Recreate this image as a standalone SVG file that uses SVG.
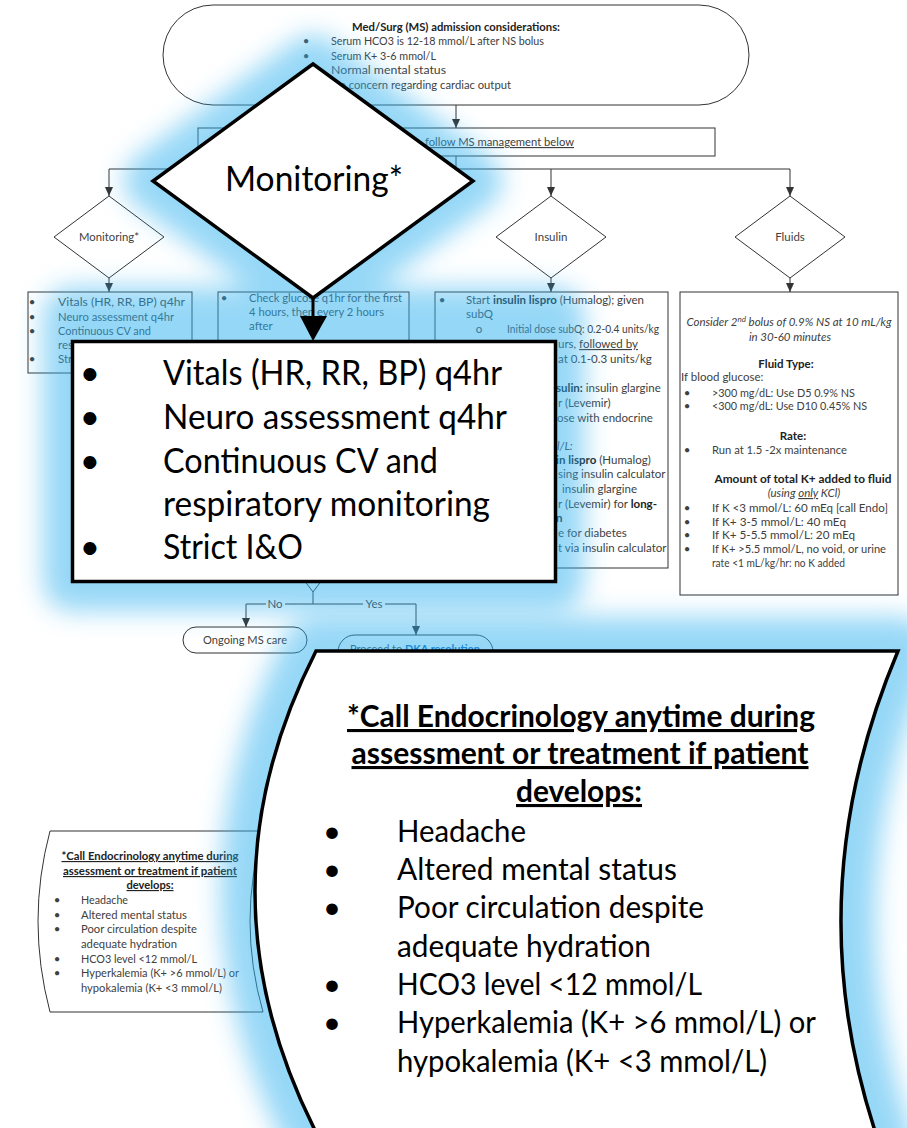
<svg xmlns="http://www.w3.org/2000/svg" width="907" height="1128" viewBox="0 0 907 1128">
  <defs>
    <style>
      .t { font-family: Lato, "Liberation Sans", sans-serif; font-size: 11.5px; fill: #404040; }
      .b { font-weight: bold; fill: #222; }
      .i { font-style: italic; }
      .u { text-decoration: underline; }
      .lnk { fill: #0563c1; font-weight: bold; text-decoration: underline; }
      .ln { stroke: #333; stroke-width: 1; fill: none; }
      .node { fill: #fff; stroke: #333; stroke-width: 1; }
      .big { fill: #fff; stroke: #000; stroke-width: 3.5; stroke-linejoin: miter; }
      .bt { font-family: Lato, "Liberation Sans", sans-serif; fill: #000; }
      .glow { fill: #2fb0ef; stroke: #2fb0ef; stroke-linejoin: round; }
    </style>
    <marker id="arr" markerUnits="userSpaceOnUse" markerWidth="9" markerHeight="8" refX="9" refY="4" orient="auto">
      <path d="M0,0 L9,4 L0,8 Z" fill="#333"/>
    </marker>
    <filter id="halo" filterUnits="userSpaceOnUse" x="-80" y="-80" width="1070" height="1290">
      <feGaussianBlur stdDeviation="13"/>
    </filter>
  </defs>
  <rect width="907" height="1128" fill="#fff"/>

  <!-- ===== flowchart ===== -->
  <g id="admission">
    <rect class="node" x="163" y="5" width="586" height="100" rx="50"/>
    <text class="t b" x="456" y="31" text-anchor="middle" textLength="208" lengthAdjust="spacingAndGlyphs">Med/Surg (MS) admission considerations:</text>
    <text class="t" x="306" y="45" text-anchor="middle">•</text>
    <text class="t" x="306" y="60" text-anchor="middle">•</text>
    <text class="t" x="306" y="74" text-anchor="middle">•</text>
    <text class="t" x="306" y="89" text-anchor="middle">•</text>
    <text class="t" x="331" y="45" textLength="213" lengthAdjust="spacingAndGlyphs">Serum HCO3 is 12-18 mmol/L after NS bolus</text>
    <text class="t" x="331" y="60" textLength="105" lengthAdjust="spacingAndGlyphs">Serum K+ 3-6 mmol/L</text>
    <text class="t" x="331" y="74" textLength="115" lengthAdjust="spacingAndGlyphs">Normal mental status</text>
    <text class="t" x="331" y="89" textLength="180" lengthAdjust="spacingAndGlyphs">No concern regarding cardiac output</text>
  </g>

  <g id="ms-management">
    <rect class="node" x="198" y="128" width="517" height="28"/>
    <text class="t u" x="425" y="146" textLength="149" lengthAdjust="spacingAndGlyphs">follow MS management below</text>
  </g>

  <g id="monitoring-decision">
    <polygon class="node" points="109,196 164,237 109,278 54,237"/>
    <text class="t" x="109" y="241" text-anchor="middle" font-size="11" textLength="60" lengthAdjust="spacingAndGlyphs">Monitoring*</text>
  </g>
  <g id="insulin-decision">
    <polygon class="node" points="551,196 606,237 551,278 496,237"/>
    <text class="t" x="551" y="241" text-anchor="middle" font-size="11">Insulin</text>
  </g>
  <g id="fluids-decision">
    <polygon class="node" points="790,196 845,237 790,278 735,237"/>
    <text class="t" x="790" y="241" text-anchor="middle" font-size="11">Fluids</text>
  </g>

  <g id="monitoring-box">
    <rect class="node" x="28" y="292" width="164" height="81"/>
    <text class="t" x="32" y="306" text-anchor="middle">•</text>
    <text class="t" x="32" y="321" text-anchor="middle">•</text>
    <text class="t" x="32" y="335" text-anchor="middle">•</text>
    <text class="t" x="32" y="363" text-anchor="middle">•</text>
    <text class="t" x="58" y="306" textLength="127" lengthAdjust="spacingAndGlyphs">Vitals (HR, RR, BP) q4hr</text>
    <text class="t" x="58" y="321" textLength="116" lengthAdjust="spacingAndGlyphs">Neuro assessment q4hr</text>
    <text class="t" x="58" y="335" textLength="93" lengthAdjust="spacingAndGlyphs">Continuous CV and</text>
    <text class="t" x="58" y="349">res</text>
    <text class="t" x="58" y="363">Str</text>
  </g>

  <g id="glucose-box">
    <rect class="node" x="218" y="292" width="191" height="190"/>
    <text class="t" x="224" y="302" text-anchor="middle">•</text>
    <text class="t" x="249" y="302" textLength="153" lengthAdjust="spacingAndGlyphs">Check glucose q1hr for the first</text>
    <text class="t" x="249" y="316" textLength="135" lengthAdjust="spacingAndGlyphs">4 hours, then every 2 hours</text>
    <text class="t" x="249" y="330">after</text>
  </g>

  <g id="insulin-box">
    <rect class="node" x="435" y="292" width="233" height="276"/>
    <text class="t" x="442" y="304" text-anchor="middle">•</text>
    <text class="t" x="466" y="304" textLength="178" lengthAdjust="spacingAndGlyphs">Start <tspan class="b">insulin lispro</tspan> (Humalog); given</text>
    <text class="t" x="466" y="318">subQ</text>
    <text class="t" x="479" y="333" text-anchor="middle">o</text>
    <text class="t" x="507" y="333" textLength="152" lengthAdjust="spacingAndGlyphs">Initial dose subQ: 0.2-0.4 units/kg</text>
    <text class="t" x="558" y="348">urs, <tspan class="u">followed by</tspan></text>
    <text class="t" x="558" y="363">at 0.1-0.3 units/kg</text>
    <text class="t" x="556" y="392"><tspan class="b">sulin:</tspan> insulin glargine</text>
    <text class="t" x="558" y="407">r (Levemir)</text>
    <text class="t" x="557" y="422">ose with endocrine</text>
    <text class="t i" x="557" y="450">l/L:</text>
    <text class="t" x="556" y="464"><tspan class="b">in lispro</tspan> (Humalog)</text>
    <text class="t" x="558" y="478">sing insulin calculator</text>
    <text class="t" x="562" y="493">insulin glargine</text>
    <text class="t" x="558" y="508">r (Levemir) for <tspan class="b">long-</tspan></text>
    <text class="t b" x="556" y="522">n</text>
    <text class="t" x="558" y="537">e for diabetes</text>
    <text class="t" x="558" y="552">t via insulin calculator</text>
  </g>

  <g id="fluids-box">
    <rect class="node" x="680" y="292" width="218" height="303"/>
    <text class="t i" x="789" y="326" text-anchor="middle">Consider 2<tspan font-size="8" dy="-4">nd</tspan><tspan dy="4"> bolus of 0.9% NS at 10 mL/kg</tspan></text>
    <text class="t i" x="790" y="341" text-anchor="middle">in 30-60 minutes</text>
    <text class="t b" x="786" y="368" text-anchor="middle">Fluid Type:</text>
    <text class="t" x="681" y="381">If blood glucose:</text>
    <text class="t" x="687" y="397" text-anchor="middle">•</text>
    <text class="t" x="687" y="410" text-anchor="middle">•</text>
    <text class="t" x="712" y="397" textLength="143" lengthAdjust="spacingAndGlyphs">&gt;300 mg/dL: Use D5 0.9% NS</text>
    <text class="t" x="712" y="410" textLength="155" lengthAdjust="spacingAndGlyphs">&lt;300 mg/dL: Use D10 0.45% NS</text>
    <text class="t b" x="793" y="440" text-anchor="middle">Rate:</text>
    <text class="t" x="687" y="454" text-anchor="middle">•</text>
    <text class="t" x="712" y="454" textLength="135" lengthAdjust="spacingAndGlyphs">Run at 1.5 -2x maintenance</text>
    <text class="t b" x="803" y="483" text-anchor="middle" textLength="177" lengthAdjust="spacingAndGlyphs">Amount of total K+ added to fluid</text>
    <text class="t i" x="804" y="497" text-anchor="middle">(using <tspan class="u">only</tspan> KCl)</text>
    <text class="t" x="687" y="512" text-anchor="middle">•</text>
    <text class="t" x="687" y="526" text-anchor="middle">•</text>
    <text class="t" x="687" y="539" text-anchor="middle">•</text>
    <text class="t" x="687" y="553" text-anchor="middle">•</text>
    <text class="t" x="712" y="512" textLength="176" lengthAdjust="spacingAndGlyphs">If K &lt;3 mmol/L: 60 mEq [call Endo]</text>
    <text class="t" x="712" y="526" textLength="134" lengthAdjust="spacingAndGlyphs">If K+ 3-5 mmol/L: 40 mEq</text>
    <text class="t" x="712" y="539" textLength="143" lengthAdjust="spacingAndGlyphs">If K+ 5-5.5 mmol/L: 20 mEq</text>
    <text class="t" x="712" y="553" textLength="174" lengthAdjust="spacingAndGlyphs">If K+ &gt;5.5 mmol/L, no void, or urine</text>
    <text class="t" x="712" y="567" textLength="133" lengthAdjust="spacingAndGlyphs">rate &lt;1 mL/kg/hr: no K added</text>
  </g>

  <g id="resolution-decision">
    <polygon class="node" points="313,512 343,552 313,592 283,552"/>
  </g>

  <g id="ongoing-care">
    <rect class="node" x="183" y="627" width="124" height="26" rx="13"/>
    <text class="t" x="245" y="644" text-anchor="middle" textLength="84" lengthAdjust="spacingAndGlyphs">Ongoing MS care</text>
  </g>

  <g id="dka-resolution">
    <rect class="node" x="338" y="635" width="155" height="34" rx="17"/>
    <text class="t" x="350" y="653" textLength="130" lengthAdjust="spacingAndGlyphs">Proceed to <tspan class="lnk">DKA resolution</tspan></text>
  </g>

  <g id="endo-note">
    <path class="node" d="M50,831 L263,831 Q237,921 263,1012 L50,1012 Q26,921 50,831 Z"/>
    <text class="t b u" x="150" y="860" text-anchor="middle" font-size="10.5" textLength="177" lengthAdjust="spacingAndGlyphs">*Call Endocrinology anytime during</text>
    <text class="t b u" x="150" y="875" text-anchor="middle" font-size="10.5" textLength="174" lengthAdjust="spacingAndGlyphs">assessment or treatment if patient</text>
    <text class="t b u" x="150" y="889" text-anchor="middle" font-size="10.5" textLength="47" lengthAdjust="spacingAndGlyphs">develops:</text>
    <text class="t" x="57" y="904" text-anchor="middle" font-size="10.5">•</text>
    <text class="t" x="57" y="919" text-anchor="middle" font-size="10.5">•</text>
    <text class="t" x="57" y="933" text-anchor="middle" font-size="10.5">•</text>
    <text class="t" x="57" y="963" text-anchor="middle" font-size="10.5">•</text>
    <text class="t" x="57" y="977" text-anchor="middle" font-size="10.5">•</text>
    <text class="t" x="81" y="904" font-size="10.5" textLength="47" lengthAdjust="spacingAndGlyphs">Headache</text>
    <text class="t" x="81" y="919" font-size="10.5" textLength="106" lengthAdjust="spacingAndGlyphs">Altered mental status</text>
    <text class="t" x="81" y="933" font-size="10.5" textLength="116" lengthAdjust="spacingAndGlyphs">Poor circulation despite</text>
    <text class="t" x="81" y="948" font-size="10.5" textLength="96" lengthAdjust="spacingAndGlyphs">adequate hydration</text>
    <text class="t" x="81" y="963" font-size="10.5" textLength="116" lengthAdjust="spacingAndGlyphs">HCO3 level &lt;12 mmol/L</text>
    <text class="t" x="81" y="977" font-size="10.5" textLength="158" lengthAdjust="spacingAndGlyphs">Hyperkalemia (K+ &gt;6 mmol/L) or</text>
    <text class="t" x="81" y="992" font-size="10.5" textLength="141" lengthAdjust="spacingAndGlyphs">hypokalemia (K+ &lt;3 mmol/L)</text>
  </g>

  <g id="connectors">
    <line class="ln" x1="456" y1="105" x2="456" y2="128" marker-end="url(#arr)"/>
    <polyline class="ln" points="456,156 456,169"/>
    <line class="ln" x1="109" y1="169" x2="790" y2="169"/>
    <line class="ln" x1="109" y1="169" x2="109" y2="196" marker-end="url(#arr)"/>
    <line class="ln" x1="551" y1="169" x2="551" y2="196" marker-end="url(#arr)"/>
    <line class="ln" x1="790" y1="169" x2="790" y2="196" marker-end="url(#arr)"/>
    <line class="ln" x1="109" y1="278" x2="109" y2="292" marker-end="url(#arr)"/>
    <line class="ln" x1="551" y1="278" x2="551" y2="292" marker-end="url(#arr)"/>
    <line class="ln" x1="790" y1="278" x2="790" y2="292" marker-end="url(#arr)"/>
    <line class="ln" x1="313" y1="592" x2="313" y2="604"/>
    <polyline class="ln" points="266,604 246,604 246,627" marker-end="url(#arr)"/>
    <line class="ln" x1="285" y1="604" x2="363" y2="604"/>
    <polyline class="ln" points="385,604 416,604 416,635" marker-end="url(#arr)"/>
    <text class="t" x="275" y="608" text-anchor="middle" font-size="11">No</text>
    <text class="t" x="374" y="608" text-anchor="middle" font-size="11">Yes</text>
  </g>

  <!-- ===== magnified callouts with halo ===== -->
  <g id="halo-monitoring" filter="url(#halo)" opacity="0.5">
    <g class="glow" stroke-width="58">
      <polygon points="313,64 473,181 313,298 153,181"/>
      <rect x="72" y="316" width="483" height="266"/>
    </g>
  </g>
  <g id="halo-endo" filter="url(#halo)" opacity="0.5">
    <path class="glow" stroke-width="68" d="M316,651 L898,651 Q795,895 878,1140 L320,1140 Q192,895 316,651 Z"/>
  </g>

  <g id="monitoring-zoom">
    <polygon class="big" points="313,64 473,181 313,298 153,181"/>
    <text class="bt" x="314" y="191" text-anchor="middle" font-size="35" textLength="178" lengthAdjust="spacingAndGlyphs">Monitoring*</text>
    <line x1="313" y1="298" x2="313" y2="318" stroke="#000" stroke-width="3"/>
    <polygon points="300,316 327,316 313,341" fill="#000"/>
    <rect class="big" x="72.5" y="341.5" width="483" height="240"/>
    <g font-size="35">
      <text class="bt" x="90" y="385" text-anchor="middle">•</text>
      <text class="bt" x="90" y="429" text-anchor="middle">•</text>
      <text class="bt" x="90" y="473" text-anchor="middle">•</text>
      <text class="bt" x="90" y="559" text-anchor="middle">•</text>
      <text class="bt" x="163" y="385" textLength="339" lengthAdjust="spacingAndGlyphs">Vitals (HR, RR, BP) q4hr</text>
      <text class="bt" x="163" y="429" textLength="344" lengthAdjust="spacingAndGlyphs">Neuro assessment q4hr</text>
      <text class="bt" x="163" y="473" textLength="275" lengthAdjust="spacingAndGlyphs">Continuous CV and</text>
      <text class="bt" x="163" y="516" textLength="327" lengthAdjust="spacingAndGlyphs">respiratory monitoring</text>
      <text class="bt" x="163" y="559" textLength="140" lengthAdjust="spacingAndGlyphs">Strict I&amp;O</text>
    </g>
  </g>

  <g id="endo-zoom">
    <path class="big" stroke-width="3" d="M316,651 L898,651 Q795,895 878,1140 L320,1140 Q192,895 316,651 Z"/>
    <g font-size="31">
      <text class="bt" x="581" y="727" text-anchor="middle" font-weight="bold" text-decoration="underline" textLength="468" lengthAdjust="spacingAndGlyphs">*Call Endocrinology anytime during</text>
      <text class="bt" x="580" y="764" text-anchor="middle" font-weight="bold" text-decoration="underline" textLength="457" lengthAdjust="spacingAndGlyphs">assessment or treatment if patient</text>
      <text class="bt" x="579" y="802" text-anchor="middle" font-weight="bold" text-decoration="underline" textLength="126" lengthAdjust="spacingAndGlyphs">develops:</text>
      <text class="bt" x="332" y="842" text-anchor="middle">•</text>
      <text class="bt" x="332" y="880" text-anchor="middle">•</text>
      <text class="bt" x="332" y="918" text-anchor="middle">•</text>
      <text class="bt" x="332" y="995" text-anchor="middle">•</text>
      <text class="bt" x="332" y="1033" text-anchor="middle">•</text>
      <text class="bt" x="397" y="842" textLength="129" lengthAdjust="spacingAndGlyphs">Headache</text>
      <text class="bt" x="397" y="880" textLength="280" lengthAdjust="spacingAndGlyphs">Altered mental status</text>
      <text class="bt" x="397" y="918" textLength="307" lengthAdjust="spacingAndGlyphs">Poor circulation despite</text>
      <text class="bt" x="397" y="957" textLength="254" lengthAdjust="spacingAndGlyphs">adequate hydration</text>
      <text class="bt" x="397" y="995" textLength="305" lengthAdjust="spacingAndGlyphs">HCO3 level &lt;12 mmol/L</text>
      <text class="bt" x="397" y="1033" textLength="419" lengthAdjust="spacingAndGlyphs">Hyperkalemia (K+ &gt;6 mmol/L) or</text>
      <text class="bt" x="397" y="1072" textLength="370" lengthAdjust="spacingAndGlyphs">hypokalemia (K+ &lt;3 mmol/L)</text>
    </g>
  </g>
</svg>
